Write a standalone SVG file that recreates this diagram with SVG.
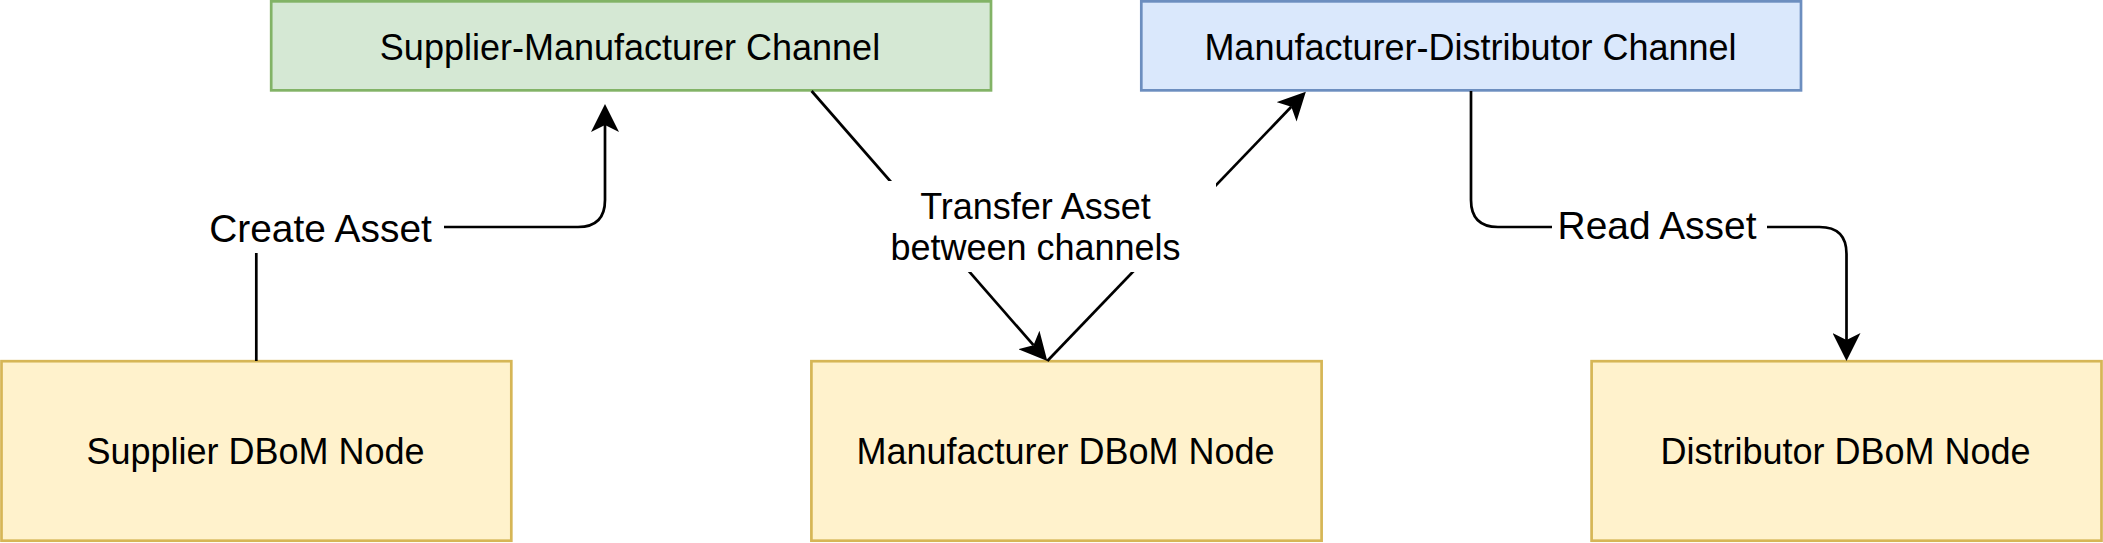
<svg xmlns="http://www.w3.org/2000/svg" width="2103" height="543" viewBox="0 0 2103 543">
  <style>
    .box { stroke-width: 2.7; }
    .green { fill: #d5e8d4; stroke: #82b366; }
    .blue { fill: #dae8fc; stroke: #6c8ebf; }
    .yellow { fill: #fff2cc; stroke: #d6b656; }
    .ntext { font-family: "Liberation Sans", Arial, Helvetica, sans-serif; font-size: 36px; fill: #000000; text-anchor: middle; }
    .ltext { font-family: "Liberation Sans", Arial, Helvetica, sans-serif; font-size: 38.9px; fill: #000000; text-anchor: middle; }
    .edge { fill: none; stroke: #000000; stroke-width: 2.7; stroke-linejoin: round; }
    .lbg { fill: #ffffff; stroke: none; }
  </style>
  <defs>
    <marker id="arrow" viewBox="0 0 28 28" refX="7" refY="14" markerWidth="28" markerHeight="28" markerUnits="userSpaceOnUse" orient="auto">
      <path d="M0,0 L28,14 L0,28 L7,14 Z" fill="#000000"/>
    </marker>
  </defs>

  <g id="node-supplier-manufacturer-channel">
    <rect class="box green" x="271.2" y="1.35" width="719.8" height="89"/>
    <text class="ntext" x="630" y="60">Supplier-Manufacturer Channel</text>
  </g>
  <g id="node-manufacturer-distributor-channel">
    <rect class="box blue" x="1141.3" y="1.35" width="659.7" height="89"/>
    <text class="ntext" x="1470.5" y="60">Manufacturer-Distributor Channel</text>
  </g>
  <g id="node-supplier">
    <rect class="box yellow" x="1.5" y="361.2" width="509.8" height="179.5"/>
    <text class="ntext" x="255.5" y="464">Supplier DBoM Node</text>
  </g>
  <g id="node-manufacturer">
    <rect class="box yellow" x="811.4" y="361.2" width="510.2" height="179.5"/>
    <text class="ntext" x="1065.5" y="464">Manufacturer DBoM Node</text>
  </g>
  <g id="node-distributor">
    <rect class="box yellow" x="1591.6" y="361.2" width="509.9" height="179.5"/>
    <text class="ntext" x="1845.5" y="464">Distributor DBoM Node</text>
  </g>

  <g id="connectors">
    <path id="edge-create" class="edge" d="M256.3,361 L256.3,227 L578,227 Q605,227 605,200 L605,125" marker-end="url(#arrow)"/>
    <path id="edge-transfer-in" class="edge" d="M811.6,91 L1033.5,345.2" marker-end="url(#arrow)"/>
    <path id="edge-transfer-out" class="edge" d="M1047.3,361 L1291.3,106.8" marker-end="url(#arrow)"/>
    <path id="edge-read" class="edge" d="M1471,91 L1471,200 Q1471,227 1498,227 L1819.5,227 Q1846.5,227 1846.5,254 L1846.5,340" marker-end="url(#arrow)"/>

    <g id="label-create">
      <rect class="lbg" x="207" y="205" width="237" height="48"/>
      <text class="ltext" x="320.5" y="242">Create Asset</text>
    </g>
    <g id="label-transfer">
      <rect class="lbg" x="888" y="181" width="328" height="91"/>
      <text class="ntext" x="1035.5" y="219">Transfer Asset</text>
      <text class="ntext" x="1035.5" y="260">between channels</text>
    </g>
    <g id="label-read">
      <rect class="lbg" x="1552" y="205" width="215" height="47"/>
      <text class="ltext" x="1657" y="238.5">Read Asset</text>
    </g>
  </g>
</svg>
